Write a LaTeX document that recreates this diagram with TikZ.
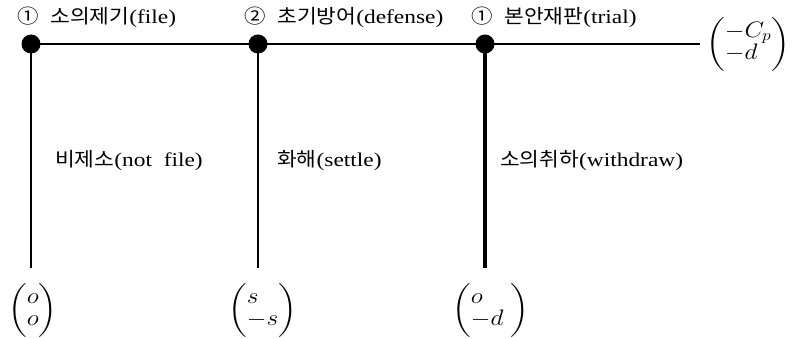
\documentclass[tikz,border=0pt]{standalone}
\usepackage{amsmath}
\usepackage{graphicx}
\usepackage{fontspec}
\setmainfont[FakeStretch=1.2]{Liberation Serif}
\newfontfamily\kr[FakeStretch=1.1]{Noto Sans CJK KR}
\newcommand{\wide}[1]{\scalebox{1.22}[1.08]{#1}}
\newcommand{\vecl}[2]{{\renewcommand{\arraystretch}{0.85}\biggl(\begin{array}{@{}l@{}}#1\\ #2\end{array}\biggr)}}
\begin{document}
\begin{tikzpicture}[x=1pt,y=1pt,
  dot/.style={circle,fill=black,inner sep=0pt,minimum size=19pt},
  lbl/.style={font=\fontsize{19.5}{23}\selectfont,inner sep=0pt,anchor=west},
  vec/.style={font=\fontsize{20}{24}\selectfont,inner sep=0pt,anchor=west},
  edge/.style={line width=2.6pt},
  thick edge/.style={line width=4.8pt}]
\useasboundingbox (0,0) rectangle (799,339);
\node[dot] (d1) at (31,295) {};
\node[dot] (d2) at (258,295) {};
\node[dot] (d3) at (485,295) {};
\coordinate (e) at (700,295);
\coordinate (b1) at (31,71);
\coordinate (b2) at (258,71);
\coordinate (b3) at (485,71);
\draw[edge] (d1.center) -- (d2.center) -- (d3.center) -- (e);
\draw[edge] (d1.center) -- (b1);
\draw[edge] (d2.center) -- (b2);
\draw[thick edge] (d3.center) -- (b3);
\node[lbl] (t1) at (17,322) {{\kr ①}\ \ {\kr 소의제기}(file)};
\node[lbl] (t2) at (244,322) {{\kr ②}\ \ {\kr 초기방어}(defense)};
\node[lbl] (t3) at (471,322) {{\kr ①}\ \ {\kr 본안재판}(trial)};
\node[lbl] (m1) at (55,178) {{\kr 비제소}(not\ \ file)};
\node[lbl] (m2) at (277,178) {{\kr 화해}(settle)};
\node[lbl] (m3) at (500,178) {{\kr 소의취하}(withdraw)};
\node[vec] (v0) at (706,295) {\wide{$\vecl{-C_{p}}{-d}$}};
\node[vec] (v1) at (8,29) {\wide{$\vecl{o}{o}$}};
\node[vec] (v2) at (228,29) {\wide{$\vecl{s\;}{-s}$}};
\node[vec] (v3) at (452,29) {\wide{$\vecl{o}{-d\;}$}};
\end{tikzpicture}
\end{document}
